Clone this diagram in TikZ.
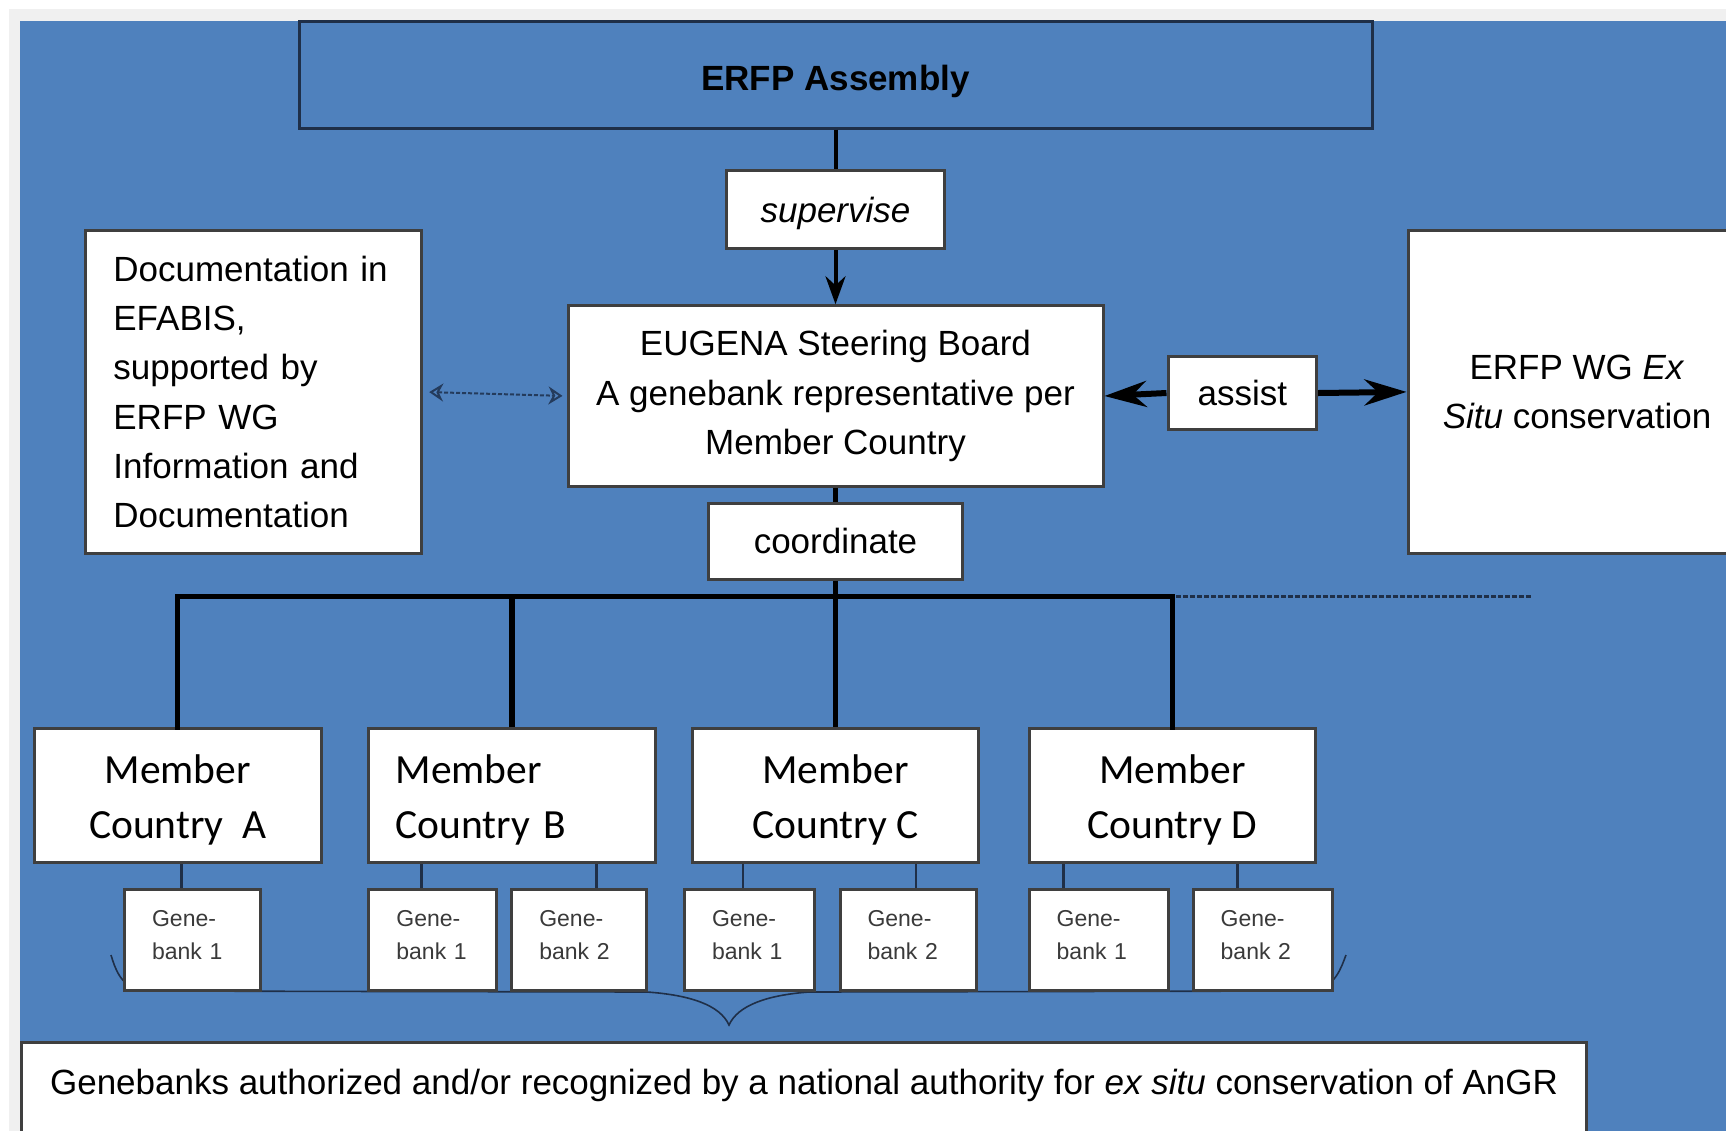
\documentclass[tikz,border=0pt]{standalone}
\usepackage{fontspec}
\setmainfont{Liberation Sans}
\newfontfamily\calfont{Carlito}
\usetikzlibrary{arrows.meta}
\definecolor{bgblue}{HTML}{4F81BD}
\definecolor{stripgray}{HTML}{F0F0F0}
\definecolor{boxline}{HTML}{3F3F3F}
\definecolor{navy}{HTML}{1F2F48}
\definecolor{dotnavy}{HTML}{243B5C}
\definecolor{gbtext}{HTML}{3A3A3A}
\newcommand\memstrut{\rule{0pt}{19pt}}
\begin{document}
\begin{tikzpicture}[x=0.5pt,y=-0.5pt,
  box/.style={draw=boxline, fill=white, line width=1.5pt, inner sep=0pt},
  maintext/.style={font=\fontsize{17.5}{24.6}\selectfont},
  memtext/.style={font=\calfont\fontsize{20.75}{27.5}\selectfont},
  gbtext/.style={font=\fontsize{11.5}{16.5}\selectfont, text=gbtext, align=left, inner xsep=13.75pt},
  membox/.style={box, memtext, minimum width=143.3pt, minimum height=66.65pt, align=center},
  gbbox/.style={box, gbtext, minimum height=50.65pt, text height=10pt, text depth=24pt},
  trunk/.style={draw=black, line width=2.6pt},
  feed/.style={draw=navy, line width=1.2pt},
  bigarrow/.style={draw=black, line width=3pt, -{Stealth[length=21pt,width=13pt]}},
  downarrow/.style={draw=black, line width=2pt, -{Stealth[length=14pt,width=10pt]}},
  dotarrow/.style={draw=dotnavy, line width=1pt, dash pattern=on 2pt off 1pt,
                   {Stealth[open,length=7pt,width=9pt]}-{Stealth[open,length=7pt,width=9pt]}},
  dashline/.style={draw=navy, line width=1.7pt, dash pattern=on 2.2pt off 1.3pt},
  bracepath/.style={draw=navy, line width=0.8pt}
]
\useasboundingbox (0,0) rectangle (1726,1131);
\clip (0,0) rectangle (1726,1131);
\fill[white] (0,0) rectangle (1726,1131);
\fill[stripgray] (9,9) rectangle (1726,1131);
\fill[bgblue] (20,21) rectangle (1726,1131);

% top
\node[box, fill=bgblue, draw=navy, minimum width=536.5pt, minimum height=53.5pt,
      text height=19.3pt, text depth=3.7pt,
      font=\bfseries\fontsize{17.5}{21}\selectfont] (asm) at (835.5,74.5) {ERFP Assembly};
\node[box, maintext, font=\itshape\fontsize{17.5}{21}\selectfont, minimum width=109pt, minimum height=39pt,
      text height=16pt, text depth=3.7pt] (sup) at (835.5,209.7) {supervise};
\node[box, maintext, align=center, minimum width=267.5pt, minimum height=90.25pt] (eug) at (835.5,396) {EUGENA Steering Board\\A genebank representative per\\Member Country};
\node[box, maintext, align=left, inner xsep=13.75pt, text width=140.4pt, minimum height=161.9pt] (doc) at (253.8,391.9) {Documentation in\\EFABIS,\\supported by\\ERFP WG\\Information and\\Documentation};
\node[box, maintext, minimum width=74.3pt, minimum height=36.3pt] (assist) at (1242.3,393) {assist};
\node[box, maintext, align=center, minimum width=169pt, minimum height=161.9pt] (wg) at (1577,391.9) {ERFP WG \textit{Ex}\\\textit{Situ} conservation};
\node[box, maintext, minimum width=127.2pt, minimum height=38pt] (coord) at (835.5,541) {coordinate};

% members
\node[membox] (mA) at (177.7,795.4) {\memstrut Member\\Country~~A};
\node[membox, align=left, text width=116.3pt, inner xsep=13.5pt] (mB) at (511.9,795.4) {\memstrut Member\\Country B};
\node[membox] (mC) at (835.5,795.4) {\memstrut Member\\Country C};
\node[membox] (mD) at (1172.4,795.4) {\memstrut Member\\Country D};

% brace
\draw[bracepath] (111,955) .. controls (115,968) and (120,985) .. (140,991) -- (647,992)
  .. controls (690,995) and (720,1005) .. (729,1025)
  .. controls (738,1005) and (768,995) .. (809,992) -- (1315,991)
  .. controls (1336,985) and (1341,968) .. (1346,955);

% genebanks
\node[gbbox, text width=40.5pt] (gA1) at (192.6,940) {Gene-\\bank 1};
\node[gbbox, text width=36.2pt] (gB1) at (432.6,940) {Gene-\\bank 1};
\node[gbbox, text width=39.7pt] (gB2) at (579,940) {Gene-\\bank 2};
\node[gbbox, text width=37.5pt] (gC1) at (749.6,940) {Gene-\\bank 1};
\node[gbbox, text width=40.7pt] (gC2) at (908.2,940) {Gene-\\bank 2};
\node[gbbox, text width=41.9pt] (gD1) at (1098.6,940) {Gene-\\bank 1};
\node[gbbox, text width=41.9pt] (gD2) at (1262.6,940) {Gene-\\bank 2};

% bottom
\node[box, maintext, anchor=north west, inner sep=0pt, minimum width=782.5pt,
      text height=26pt, text depth=50pt] (bot) at (20,1041)
  {Genebanks authorized and/or recognized by a national authority for \textit{ex situ} conservation of AnGR};

% connectors
\draw[draw=black, line width=2pt] (asm.south) -- (sup.north);
\draw[downarrow] (sup.south) -- (eug.north);
\draw[dotarrow, shorten <=3pt, shorten >=2pt] (doc.east) -- (eug.west);
\draw[bigarrow] (assist.west) -- (eug.east);
\draw[bigarrow] (assist.east) -- (wg.west);
\draw[trunk] (eug.south) -- (coord.north);

\coordinate (bus) at (835.5,596.6);
\coordinate (dashend) at (1532,596.6);
\draw[dashline] ([xshift=2pt]mD.north |- bus) -- (dashend);
\draw[trunk, line cap=rect] (mA.north) |- (bus) -| (mD.north);
\draw[trunk] (mB.north) -- (mB.north |- bus);
\draw[trunk] (coord.south) -- (mC.north);

\draw[feed] ([xshift=-5.5pt]gA1.north) -- ([xshift=-5.5pt]gA1.north |- mA.south);
\draw[feed] ([xshift=-5.5pt]gB1.north) -- ([xshift=-5.5pt]gB1.north |- mB.south);
\draw[feed] ([xshift=8.8pt]gB2.north) -- ([xshift=8.8pt]gB2.north |- mB.south);
\draw[feed] ([xshift=-3.3pt]gC1.north) -- ([xshift=-3.3pt]gC1.north |- mC.south);
\draw[feed] ([xshift=3.85pt]gC2.north) -- ([xshift=3.85pt]gC2.north |- mC.south);
\draw[feed] ([xshift=-17.6pt]gD1.north) -- ([xshift=-17.6pt]gD1.north |- mD.south);
\draw[feed] ([xshift=-12.65pt]gD2.north) -- ([xshift=-12.65pt]gD2.north |- mD.south);
\end{tikzpicture}
\end{document}
